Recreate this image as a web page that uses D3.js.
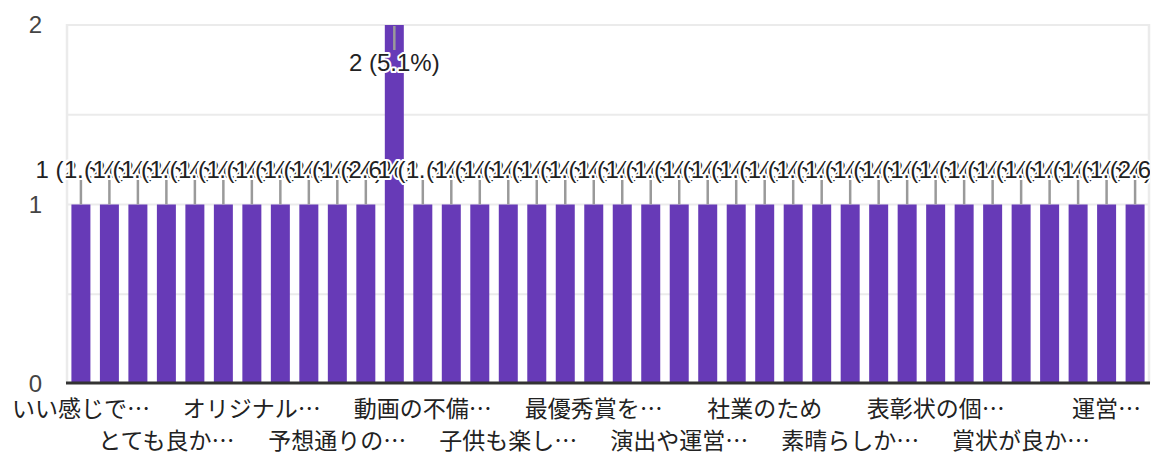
<!DOCTYPE html>
<html><head><meta charset="utf-8">
<script src="https://cdn.jsdelivr.net/npm/d3@7"></script>
<style>
html,body{margin:0;padding:0;background:#fff;}
svg{display:block;}
</style></head>
<body>
<svg id="chart" width="1153" height="453"></svg>
<script>
// ---- data ----
const categories = [
  "いい感じで…", "楽しかった", "良かった", "とても良か…", "感動した", "面白かった",
  "オリジナル…", "特になし", "満足", "予想通りの…", "普通", "よかったです",
  "動画の不備…", "素敵でした", "ありがとう", "子供も楽し…", "盛り上がった", "嬉しかった",
  "最優秀賞を…", "勉強になった", "また参加したい", "演出や運営…", "楽しめた", "感激しました",
  "社業のため", "良い企画", "参考になった", "素晴らしか…", "とても楽しい", "すごかった",
  "表彰状の個…", "面白い企画", "よい経験", "賞状が良か…", "驚いた", "最高",
  "運営…", "素晴らしい"
];
const counts = [
  1,1,1,1,1,1, 1,1,1,1,1,2,
  1,1,1,1,1,1, 1,1,1,1,1,1,
  1,1,1,1,1,1, 1,1,1,1,1,1,
  1,1
];
const yTicks = [0, 1, 2];
const yGrid = [0.5, 1, 1.5, 2];

// ---- layout ----
const svg = d3.select("#chart");
const plot = {left: 67, right: 1149, top: 25, bottom: 383};
const total = d3.sum(counts);
const idx = d3.range(categories.length);

const x = d3.scaleBand().domain(idx).range([66, 1150]).paddingInner(1/3).paddingOuter(0.19);
const y = d3.scaleLinear().domain([0, 2]).range([384, 25]);

const gridColor = "#ebebeb";
// gridlines
svg.append("g").selectAll("line").data(yGrid).join("line")
  .attr("x1", plot.left).attr("x2", plot.right)
  .attr("y1", d => y(d)).attr("y2", d => y(d))
  .attr("stroke", gridColor).attr("stroke-width", 2);
// side borders
svg.append("g").selectAll("line").data([plot.left, plot.right]).join("line")
  .attr("x1", d => d).attr("x2", d => d)
  .attr("y1", y(2) - 1).attr("y2", plot.bottom)
  .attr("stroke", gridColor).attr("stroke-width", 2.5);

// bars
svg.append("g").selectAll("rect").data(idx).join("rect")
  .attr("x", i => x(i))
  .attr("width", x.bandwidth())
  .attr("y", i => y(counts[i]))
  .attr("height", i => 383 - y(counts[i]))
  .attr("fill", "#673ab7");

// baseline axis
svg.append("line")
  .attr("x1", 66).attr("x2", 1150)
  .attr("y1", 383).attr("y2", 383)
  .attr("stroke", "#333").attr("stroke-width", 3);

// y tick labels
svg.append("g").selectAll("text").data(yTicks).join("text")
  .attr("x", 42).attr("y", d => y(d))
  .attr("dy", "0.35em")
  .attr("text-anchor", "end")
  .attr("font-family", "Arial, 'Liberation Sans', sans-serif")
  .attr("font-size", 24)
  .attr("fill", "#444")
  .text(d => d);

// x labels (every third category, alternating rows)
const shown = idx.filter(i => i % 3 === 0);
svg.append("g").selectAll("text").data(shown).join("text")
  .attr("x", i => x(i) + x.bandwidth() / 2)
  .attr("y", i => ((i / 3) % 2 === 0) ? 417 : 449)
  .attr("text-anchor", "middle")
  .attr("font-family", "'Noto Sans CJK JP', sans-serif")
  .attr("font-size", 23)
  .attr("fill", "#222")
  .text(i => categories[i]);

// annotations
const defs = svg.append("defs");
defs.append("clipPath").attr("id", "annClip")
  .append("rect").attr("x", 0).attr("y", 0).attr("width", 1150).attr("height", 453);

const ann = svg.append("g").attr("clip-path", "url(#annClip)");
const stemLen = 25;
idx.forEach(i => {
  const cx = x(i) + x.bandwidth() / 2;
  const top = y(counts[i]);
  const above = top - stemLen - 26 > 0;
  const g = ann.append("g");
  if (above) {
    g.append("line").attr("x1", cx).attr("x2", cx)
      .attr("y1", top - stemLen).attr("y2", top)
      .attr("stroke", "#9a9a9a").attr("stroke-width", 2.5);
  } else {
    g.append("line").attr("x1", cx).attr("x2", cx)
      .attr("y1", top + 1).attr("y2", top + stemLen)
      .attr("stroke", "#9a9a9a").attr("stroke-width", 2.5);
  }
  const label = `${counts[i]} (${(counts[i] / total * 100).toFixed(1)}%)`;
  g.append("text")
    .attr("x", cx)
    .attr("y", above ? top - stemLen - 2 : top + stemLen + 21)
    .attr("text-anchor", "middle")
    .attr("font-family", "Arial, 'Liberation Sans', sans-serif")
    .attr("font-size", 24)
    .attr("fill", "#222")
    .attr("stroke", "#fff").attr("stroke-width", 4)
    .attr("stroke-linejoin", "round")
    .attr("paint-order", "stroke")
    .text(label);
});
</script>
</body></html>
